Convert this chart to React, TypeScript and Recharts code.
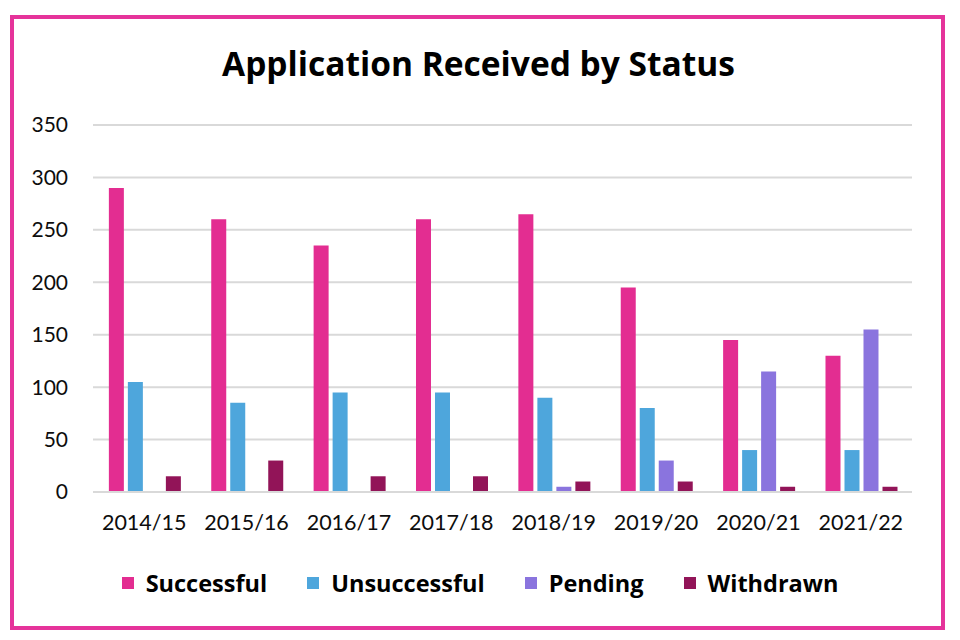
import { BarChart, Bar, XAxis, YAxis, CartesianGrid, Legend } from 'recharts'

const years = ['2014/15', '2015/16', '2016/17', '2017/18', '2018/19', '2019/20', '2020/21', '2021/22']
const successful = [290, 260, 235, 260, 265, 195, 145, 130]
const unsuccessful = [105, 85, 95, 95, 90, 80, 40, 40]
const pending = [0, 0, 0, 0, 5, 30, 115, 155]
const withdrawn = [15, 30, 15, 15, 10, 10, 5, 5]
const yTicks = [0, 50, 100, 150, 200, 250, 300, 350]

const series = [
  { key: 'successful', name: 'Successful', color: '#E32D91' },
  { key: 'unsuccessful', name: 'Unsuccessful', color: '#4EA6DC' },
  { key: 'pending', name: 'Pending', color: '#8A74DE' },
  { key: 'withdrawn', name: 'Withdrawn', color: '#921458' },
]

const data = years.map((year, i) => ({
  year,
  successful: successful[i],
  unsuccessful: unsuccessful[i],
  pending: pending[i],
  withdrawn: withdrawn[i],
}))

const FONT = 'Lato, "Open Sans", sans-serif'
const BOLD_FONT = '"Open Sans", Lato, sans-serif'

function LegendContent() {
  return (
    <div style={{ display: 'flex', justifyContent: 'center', alignItems: 'center', gap: 40, fontFamily: BOLD_FONT }}>
      {series.map(s => (
        <div key={s.key} style={{ display: 'flex', alignItems: 'center', gap: 12 }}>
          <div style={{ width: 12, height: 12, background: s.color }} />
          <span style={{ fontSize: 23.5, fontWeight: 700, color: '#000' }}>{s.name}</span>
        </div>
      ))}
    </div>
  )
}

export default function App() {
  return (
    <div style={{ position: 'absolute', left: 0, top: 0, width: 960, height: 640, background: '#fff' }}>
      <div style={{
        position: 'absolute', left: 10, top: 15, width: 935, height: 615,
        border: '4px solid #E5339A', boxSizing: 'border-box',
      }} />
      <div style={{
        position: 'absolute', left: 0, top: 47, width: 957, textAlign: 'center',
        fontFamily: BOLD_FONT, fontWeight: 700, fontSize: 33.5, lineHeight: '33px', color: '#000',
      }}>
        Application Received by Status
      </div>
      <div style={{ position: 'absolute', left: 0, top: 0 }}>
        <BarChart
          width={960} height={640} data={data}
          margin={{ top: 125, right: 48, left: 0, bottom: 88 }}
          barCategoryGap="15.5%" barGap={4}
        >
          <CartesianGrid vertical={false} stroke="#D9D9D9" strokeWidth={2} />
          <XAxis
            dataKey="year" height={60} axisLine={{ stroke: '#D9D9D9', strokeWidth: 2 }} tickLine={false}
            tickMargin={17} interval={0}
            tick={{ fontSize: 21.5, fill: '#0d0d0d', fontFamily: FONT }}
          />
          <YAxis
            width={93} domain={[0, 350]} ticks={yTicks} axisLine={false} tickLine={false}
            tickSize={6} tickMargin={19}
            tick={{ fontSize: 21, fill: '#0d0d0d', fontFamily: FONT }}
          />
          <Legend
            layout="horizontal" verticalAlign="middle" align="center"
            wrapperStyle={{ top: 567, left: 0, width: 960 }}
            content={() => <LegendContent />}
          />
          {series.map(s => (
            <Bar key={s.key} dataKey={s.key} name={s.name} fill={s.color} isAnimationActive={false} />
          ))}
        </BarChart>
      </div>
    </div>
  )
}
